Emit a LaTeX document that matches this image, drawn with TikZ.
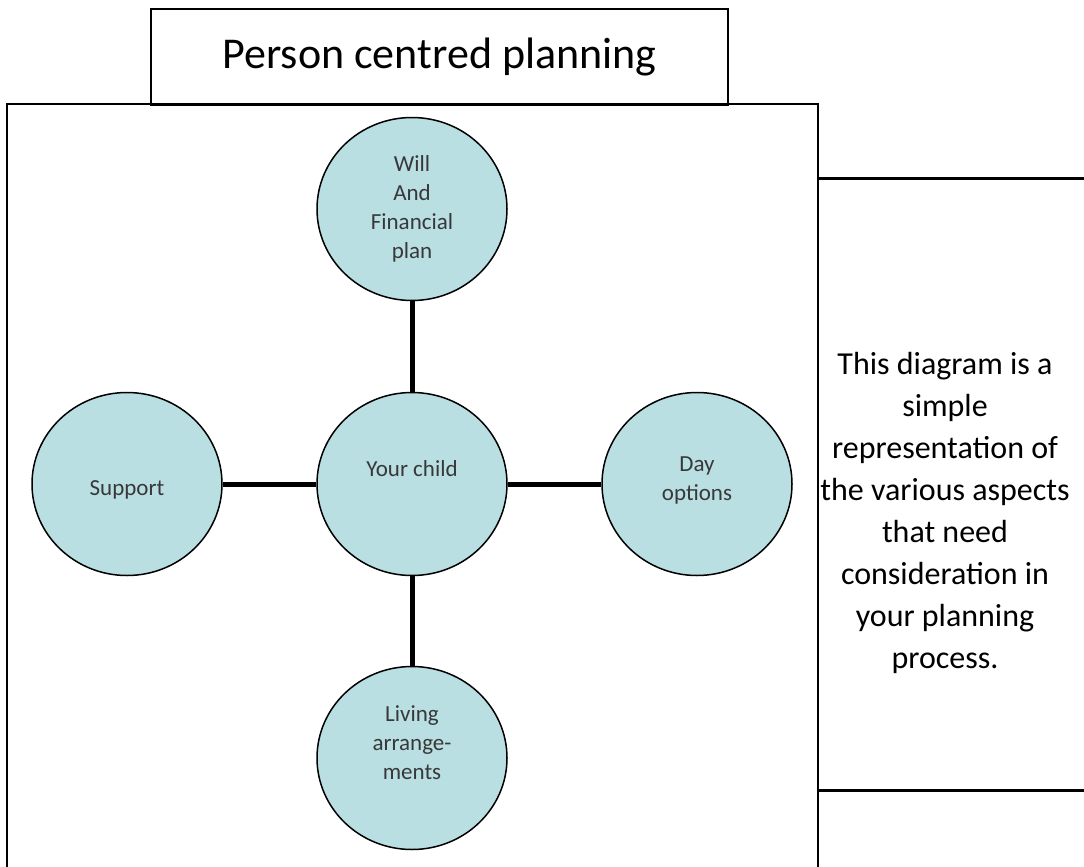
\documentclass[tikz,border=0pt]{standalone}
\usepackage{fontspec}
\setmainfont{Carlito}
\usetikzlibrary{positioning}
\usetikzlibrary{shapes.geometric}
\definecolor{bubblefill}{HTML}{B9DFE3}
\definecolor{bubbleink}{HTML}{383838}

\begin{document}
\begin{tikzpicture}[x=1pt,y=-1pt,
    frame/.style={draw=black, line width=2pt},
    bubble/.style={ellipse, draw=black, line width=1.5pt, fill=bubblefill,
                   minimum width=190pt, minimum height=183pt, inner sep=0pt},
    bubbletext/.style={align=center, text=bubbleink,
                   font=\fontsize{23}{29}\selectfont},
    spoke/.style={line width=5pt}]
  \useasboundingbox (0,0) rectangle (1084,867);

  % Title
  \node[frame, minimum width=577pt, minimum height=96pt, anchor=north west,
        font=\fontsize{44}{50}\selectfont] (title) at (150,8) {Person centred planning};

  % Main frame
  \draw[frame] (7,885) -- (7,104) -- (818,104) -- (818,885);

  % Side note
  \coordinate (notetop) at (818,178);
  \coordinate (notebot) at (818,790);
  \draw[line width=3pt] (notetop) -- ++(280,0);
  \draw[line width=3pt] (notebot) -- ++(280,0);
  \node[align=center, font=\fontsize{32}{42}\selectfont] (note) at (945,513)
    {This diagram is a\\simple\\representation of\\the various aspects\\that need\\consideration in\\your planning\\process.};

  % Circles
  \node[bubble] (child) at (412,484) {};
  \node[bubble] (will) at (412,209) {};
  \node[bubble] (support) at (127,484) {};
  \node[bubble] (day) at (697,484) {};
  \node[bubble] (living) at (412,758) {};

  % Spokes
  \draw[spoke] (child) -- (will);
  \draw[spoke] (child) -- (support);
  \draw[spoke] (child) -- (day);
  \draw[spoke] (child) -- (living);

  % Labels
  \node[bubbletext] (childtext) at ([yshift=15]child.center) {Your child};
  \node[bubbletext] (willtext) at (will.center) {Will\\And\\Financial\\plan};
  \node[bubbletext] (supporttext) at ([yshift=-6]support.center) {Support};
  \node[bubbletext] (daytext) at ([yshift=4]day.center) {Day\\options};
  \node[bubbletext] (livingtext) at ([yshift=15]living.center) {Living\\arrange-\\ments};
\end{tikzpicture}
\end{document}
